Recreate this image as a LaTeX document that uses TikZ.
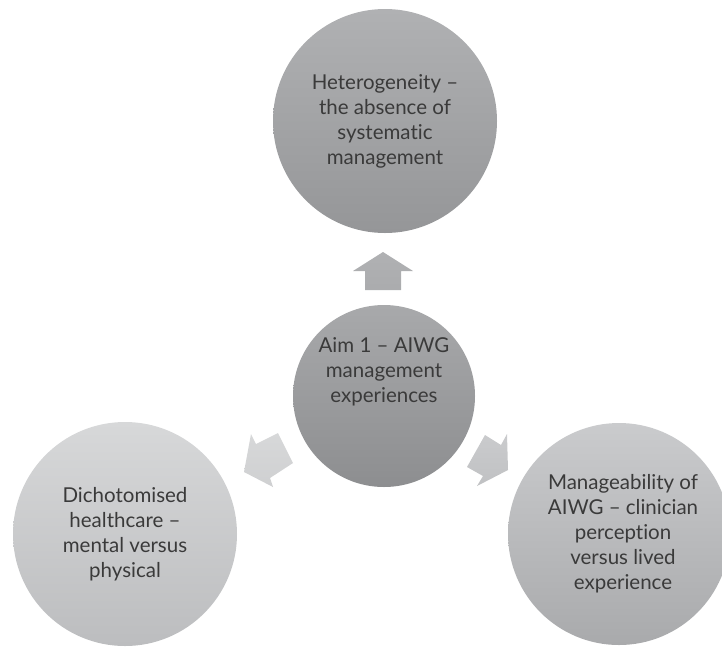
\documentclass[tikz,border=0pt]{standalone}
\usepackage{fontspec}
\setmainfont{Lato}[Ligatures={TeX,NoCommon}]
\usepackage{tikz}
\usetikzlibrary{positioning}

\definecolor{txtgray}{HTML}{3A3A3A}
\definecolor{heteroTop}{HTML}{B0B1B3}
\definecolor{heteroBot}{HTML}{959698}
\definecolor{aimTop}{HTML}{A8A9AB}
\definecolor{aimBot}{HTML}{8D8E90}
\definecolor{dichoTop}{HTML}{D7D8D9}
\definecolor{dichoBot}{HTML}{BCBDBF}
\definecolor{manageTop}{HTML}{CACBCD}
\definecolor{manageBot}{HTML}{A9AAAC}
\tikzstyle{bubble} = [circle, inner sep=0pt, draw=none, align=center, text=txtgray,
  font=\fontsize{20.5}{25}\selectfont]
\tikzstyle{label text} = [inner sep=0pt, align=center, text=txtgray,
  font=\fontsize{20.5}{25}\selectfont]
\tikzstyle{block arrow} = [draw=none]

\begin{document}
\begin{tikzpicture}[x=1pt, y=-1pt]
  \useasboundingbox (0,0) rectangle (722,646);

  % arrows from the centre circle
  \draw[block arrow, top color=heteroTop, bottom color=heteroTop!80!heteroBot]
    (383,252) -- (413,271) -- (401,271) -- (401,290) -- (365,290) -- (365,271) -- (353,271) -- cycle;
  \draw[block arrow, top color=dichoTop, bottom color=dichoTop!70!dichoBot]
    (244,472) -- (251,434) -- (256,444) -- (278,433) -- (293,463) -- (270,478) -- (273,487) -- cycle;
  \draw[block arrow, top color=manageTop, bottom color=manageTop!70!manageBot]
    (508,470) -- (507,434) -- (501,445) -- (485,435) -- (467,467) -- (483,476) -- (477,486) -- cycle;

  % circles
  \node[bubble, minimum size=224pt, top color=heteroTop, bottom color=heteroBot] (hetero) at (385,121)
    {Heterogeneity –\\the absence of\\systematic\\management};
  \node[bubble, minimum size=182pt, top color=aimTop, bottom color=aimBot] (aim) at (384,396) {};
  \node[label text] (aimText) at (384,372) {Aim 1 – AIWG\\management\\experiences};
  \node[bubble, minimum size=224pt, top color=dichoTop, bottom color=dichoBot] (dicho) at (125,534)
    {Dichotomised\\healthcare –\\mental versus\\physical};
  \node[bubble, minimum size=222pt, top color=manageTop, bottom color=manageBot] (manage) at (619,534) {};
  \node[label text] (manageText) at (623,534)
    {Manageability of\\AIWG – clinician\\perception\\versus lived\\experience};
\end{tikzpicture}
\end{document}
